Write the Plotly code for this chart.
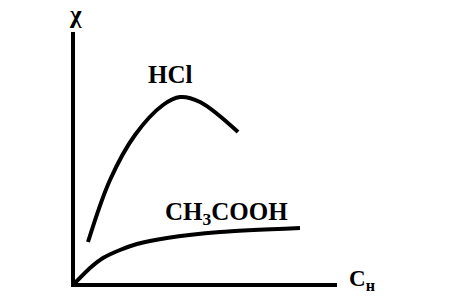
import plotly.graph_objects as go

# HCl curve (concentration, conductivity) in arbitrary units
hcl_x = [13, 35, 60, 88, 105, 125, 163]
hcl_y = [41, 103, 148, 178, 186, 181, 151]

# CH3COOH curve
ac_x = [0, 15, 28, 45, 62, 92, 145, 225]
ac_y = [0, 15, 25, 33, 39, 45, 51, 55]

FONT = "Times New Roman, Liberation Serif, serif"

fig = go.Figure()
fig.add_trace(go.Scatter(x=hcl_x, y=hcl_y, mode="lines",
                         line=dict(color="black", width=4, shape="spline", smoothing=1.0),
                         hoverinfo="skip"))
fig.add_trace(go.Scatter(x=ac_x, y=ac_y, mode="lines",
                         line=dict(color="black", width=4, shape="spline", smoothing=0.7),
                         hoverinfo="skip"))

fig.add_annotation(x=95, y=209, xref="x", yref="y", text="<b>HCl</b>", showarrow=False,
                   font=dict(family=FONT, size=25, color="black"))
fig.add_annotation(x=151, y=70, xref="x", yref="y", text="<b>CH<sub>3</sub>COOH</b>", showarrow=False,
                   font=dict(family=FONT, size=25, color="black"))
fig.add_annotation(x=0, y=1.068, xref="paper", yref="paper", xanchor="center", yanchor="middle",
                   text="<b>χ</b>", showarrow=False,
                   font=dict(family=FONT, size=25, color="black"))
fig.add_annotation(x=1.095, y=0.012, xref="paper", yref="paper", xanchor="center", yanchor="middle",
                   text="<b>C<sub>н</sub></b>", showarrow=False,
                   font=dict(family=FONT, size=23, color="black"))

axis_common = dict(showline=True, linecolor="black", linewidth=4, showgrid=False,
                   zeroline=False, showticklabels=False, ticks="", fixedrange=True)
fig.update_xaxes(range=[0, 262], **axis_common)
fig.update_yaxes(range=[0, 251], **axis_common)

fig.update_layout(width=456, height=303, margin=dict(l=75, r=119, t=32, b=20),
                  paper_bgcolor="white", plot_bgcolor="white", showlegend=False)

fig.write_html("out.html")
